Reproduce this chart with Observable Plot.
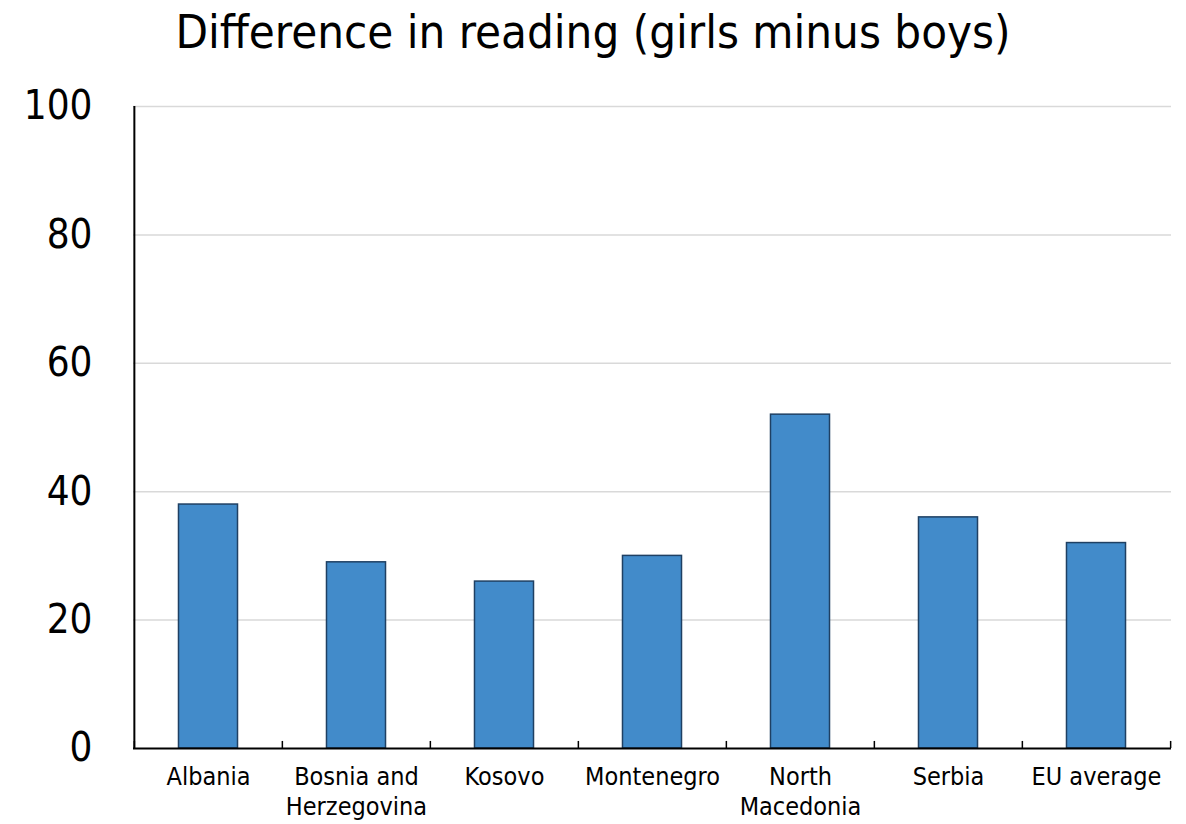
<!DOCTYPE html>
<html>
<head>
<meta charset="utf-8">
<script src="https://cdn.jsdelivr.net/npm/d3@7"></script>
<script src="https://cdn.jsdelivr.net/npm/@observablehq/plot@0.6"></script>
<style>
  body { margin: 0; background: #fff; font-family: "DejaVu Sans Condensed", "DejaVu Sans", sans-serif; }
  #title { height: 80px; box-sizing: border-box; padding-top: 2px; text-align: center; font-size: 47px; line-height: 60px; color: #000; }
  #chart svg { display: block; }
</style>
</head>
<body>
<div id="title">Difference in reading (girls minus boys)</div>
<div id="chart"></div>
<script>
// Gender gap in reading scores, girls minus boys (score points)
const countries = ["Albania", "Bosnia and Herzegovina", "Kosovo", "Montenegro", "North Macedonia", "Serbia", "EU average"];
const tickLabels = ["Albania", "Bosnia and\nHerzegovina", "Kosovo", "Montenegro", "North\nMacedonia", "Serbia", "EU average"];
const gap = [38, 29, 26, 30, 52, 36, 32];
const yTicks = [0, 20, 40, 60, 80, 100];

const data = countries.map((c, i) => ({country: c, label: tickLabels[i], value: gap[i]}));

const width = 1186, height = 744;
const marginLeft = 133, marginRight = 15, marginTop = 26, marginBottom = 76;
const step = (width - marginLeft - marginRight) / countries.length;
const font = "DejaVu Sans Condensed, DejaVu Sans, sans-serif";

const chart = Plot.plot({
  width, height, marginLeft, marginRight, marginTop, marginBottom,
  style: {fontFamily: font, background: "#fff", color: "#000"},
  x: {domain: countries, padding: 0, axis: null},
  y: {domain: [0, 100], axis: null},
  marks: [
    // horizontal gridlines
    Plot.ruleY(yTicks.filter(d => d > 0), {stroke: "#d9d9d9", strokeWidth: 1.5}),
    // y tick labels
    Plot.text(yTicks, {y: d => d, frameAnchor: "left", dx: -41, textAnchor: "end", fontSize: 40, fill: "#000"}),
    // bars
    Plot.barY(data, {x: "country", y: "value", fill: "#428bca", stroke: "#1f4063", strokeWidth: 1.5,
      insetLeft: step * 0.3, insetRight: step * 0.3}),
    // category boundary ticks on the x axis
    Plot.ruleX(countries, {x: d => d, y1: 0, y2: 1.1, dx: -step / 2, stroke: "#000", strokeWidth: 1.5}),
    Plot.ruleX(countries.slice(-1), {x: d => d, y1: 0, y2: 1.1, dx: step / 2, stroke: "#000", strokeWidth: 1.5}),
    // axis lines
    Plot.ruleX(countries.slice(0, 1), {x: d => d, y1: 0, y2: 100, dx: -step / 2, stroke: "#000", strokeWidth: 2}),
    Plot.ruleY([0], {stroke: "#000", strokeWidth: 2}),
    // category labels
    Plot.text(data, {x: "country", y: 0, text: "label", lineAnchor: "top", dy: 15, fontSize: 25, lineHeight: 1.2, fill: "#000"})
  ]
});
document.getElementById("chart").appendChild(chart);
</script>
</body>
</html>
